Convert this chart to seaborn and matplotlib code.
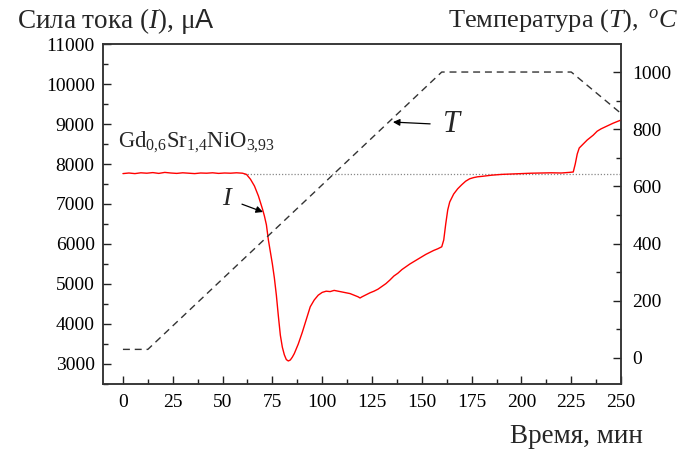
import matplotlib
matplotlib.use("Agg")
import matplotlib.pyplot as plt
from matplotlib.ticker import MultipleLocator
import seaborn as sns
import pandas as pd

# Current through the sample, μA, versus time, min
time_i = [0, 3, 6, 9, 12, 15, 18, 21, 24, 27, 30, 33, 36, 39, 42, 45, 48, 51, 54, 57,
          60, 62, 64, 66, 68, 70, 71, 72, 73, 74, 75, 76, 77, 78, 79, 80, 81, 82, 83, 84,
          85, 86, 88, 90, 92, 94, 96, 98, 100, 102, 104, 106, 108, 110, 112, 114, 116, 118,
          119, 120, 122, 124, 126, 128, 130, 132, 134, 136, 138, 140, 142, 144, 146, 148,
          150, 152, 154, 156, 158, 160, 161, 162, 163, 164, 166, 168, 170, 172, 174, 176,
          178, 180, 185, 190, 195, 200, 205, 210, 215, 220, 224, 226, 227, 228, 229, 231,
          233, 236, 238, 240, 243, 246, 250]
current = [7760, 7775, 7760, 7780, 7770, 7785, 7765, 7790, 7775, 7765, 7780, 7770, 7760,
           7775, 7770, 7780, 7765, 7775, 7770, 7780, 7770, 7740, 7620, 7450, 7200, 6880,
           6700, 6480, 6100, 5800, 5500, 5150, 4720, 4200, 3720, 3420, 3230, 3110, 3075,
           3100, 3170, 3260, 3500, 3790, 4110, 4430, 4600, 4720, 4790, 4820, 4810, 4840,
           4820, 4800, 4780, 4760, 4720, 4680, 4650, 4680, 4730, 4780, 4820, 4870, 4940,
           5010, 5100, 5200, 5270, 5360, 5430, 5500, 5560, 5620, 5680, 5740, 5790, 5840,
           5880, 5930, 6100, 6500, 6850, 7050, 7250, 7380, 7480, 7570, 7630, 7660, 7680,
           7690, 7720, 7740, 7750, 7760, 7770, 7775, 7780, 7775, 7790, 7800, 8000, 8250,
           8400, 8500, 8600, 8720, 8820, 8880, 8950, 9020, 9100]

# Furnace temperature programme, °C
time_t = [0, 12.5, 160, 225, 250]
temperature = [30, 30, 1000, 1000, 855]

# Reference level of the initial current
i_level = 7750
level_start = 61

x_ticks = [0, 25, 50, 75, 100, 125, 150, 175, 200, 225, 250]
i_ticks = [3000, 4000, 5000, 6000, 7000, 8000, 9000, 10000, 11000]
t_ticks = [0, 200, 400, 600, 800, 1000]

df_i = pd.DataFrame({"t": time_i, "I": current})
df_t = pd.DataFrame({"t": time_t, "T": temperature})

sns.set_style("ticks")
plt.rcParams["font.family"] = ["Liberation Serif", "DejaVu Serif"]
plt.rcParams["mathtext.fontset"] = "custom"
plt.rcParams["mathtext.rm"] = "Liberation Serif"
plt.rcParams["mathtext.it"] = "Liberation Serif:italic"
plt.rcParams["mathtext.sf"] = "Liberation Sans"

fig = plt.figure(figsize=(6.84, 4.5), dpi=100)
ax = fig.add_axes([0.1506, 0.1467, 0.7574, 0.7555])
ax2 = ax.twinx()

sns.lineplot(data=df_i, x="t", y="I", ax=ax, color="#ff0000", lw=1.0, zorder=3)
ax.plot([level_start, 250], [i_level, i_level], ls=(0, (1, 1.5)), color="#888888", lw=0.9, zorder=2)
sns.lineplot(data=df_t, x="t", y="T", ax=ax2, color="#333333", lw=1.0, dashes=False,
             linestyle=(0, (5, 3.5)))

ax.set_xlim(-10, 250)
ax.set_ylim(2500, 11000)
ax2.set_ylim(-91, 1098)

ax.set_xticks(x_ticks)
ax.set_yticks(i_ticks)
ax2.set_yticks(t_ticks)
ax.xaxis.set_minor_locator(MultipleLocator(12.5))
ax.yaxis.set_minor_locator(MultipleLocator(500))
ax2.yaxis.set_minor_locator(MultipleLocator(100))

for a in (ax, ax2):
    a.set_xlabel("")
    a.set_ylabel("")
    a.tick_params(which="major", direction="in", length=6, width=1, labelsize=14, colors="#222222")
    a.tick_params(which="minor", direction="in", length=3.5, width=1, colors="#222222")
    for s in a.spines.values():
        s.set_visible(True)
        s.set_linewidth(1.1)
        s.set_color("#333333")
ax.tick_params(axis="y", right=False, pad=6)
ax.tick_params(axis="x", top=False, pad=7)
ax.tick_params(axis="y", which="minor", right=False)
ax.tick_params(axis="x", which="minor", top=False)
ax2.tick_params(axis="y", which="both", left=False, pad=8)
for lab in ax.get_xticklabels() + ax.get_yticklabels() + ax2.get_yticklabels():
    lab.set_color("black")

fig.text(0.025, 0.938, r"Сила тока $\mathit{(I)}$, μ$\mathsf{A}$", fontsize=19.5,
         ha="left", va="baseline")
fig.text(0.991, 0.942, r"Температура ($\mathit{T}$)$\mathit{,\ ^{o}C}$", fontsize=19,
         ha="right", va="baseline")
fig.text(0.940, 0.016, "Время, мин", fontsize=19.5, ha="right", va="baseline")

ax.text(-2.5, 8420, r"Gd$_{0{,}6}$Sr$_{1{,}4}$NiO$_{3{,}93}$", fontsize=16.3,
        ha="left", va="baseline")
ax.annotate(r"$\mathit{I}$", xy=(70.3, 6800), xytext=(52.5, 7130), fontsize=19,
            ha="center", va="center",
            arrowprops=dict(arrowstyle="-|>", color="black", lw=0.9, shrinkA=4, shrinkB=0,
                            mutation_scale=10))
ax2.annotate(r"$\mathit{T}$", xy=(135.5, 825), xytext=(160, 815), fontsize=22,
             ha="left", va="center",
             arrowprops=dict(arrowstyle="-|>", color="black", lw=0.9, shrinkA=6, shrinkB=0,
                             mutation_scale=10))

fig.savefig("out.png", dpi=100)
